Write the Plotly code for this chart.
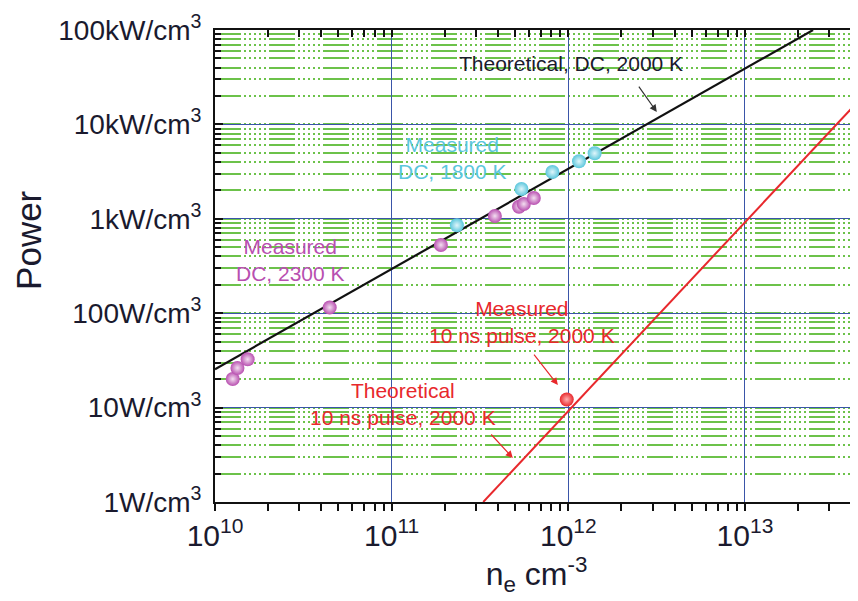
import plotly.graph_objects as go

# ---- data ----
dc2300_ne = [1.26e10, 1.34e10, 1.53e10, 4.46e10, 1.90e11, 3.84e11, 5.26e11, 5.60e11, 6.38e11]
dc2300_p = [20.1, 26.3, 32.5, 115, 528, 1071, 1343, 1435, 1660]

dc1800_ne = [2.34e11, 5.43e11, 8.13e11, 1.15e12, 1.41e12]
dc1800_p = [853, 2070, 3133, 4065, 4940]

pulse_ne = [9.8e11]
pulse_p = [12.2]

theory_dc_ne = [1.0e10, 2.43e13]
theory_dc_p = [25.5, 1.0e5]

theory_pulse_ne = [3.3e11, 4.5e13]
theory_pulse_p = [1.0, 1.86e4]

ytick_vals = [1, 10, 100, 1e3, 1e4, 1e5]
ytick_text = ["1W/cm<sup>3</sup>", "10W/cm<sup>3</sup>", "100W/cm<sup>3</sup>",
              "1kW/cm<sup>3</sup>", "10kW/cm<sup>3</sup>", "100kW/cm<sup>3</sup>"]

FONT = "Liberation Sans, Arial, sans-serif"
TXT = "#1a1a2e"
BLUE = "#3a55a8"
GREEN = "#6cc24a"
PURPLE = "#b84fb0"
CYAN = "#5ac6dc"
RED = "#e8282c"
GDASH = "26px,3px,2px,3px,2px,3px,2px,3px,2px,3px,2px,3px"

fig = go.Figure()

fig.add_trace(go.Scatter(x=theory_dc_ne, y=theory_dc_p, mode="lines",
                         line=dict(color="#111111", width=2.2), showlegend=False))
fig.add_trace(go.Scatter(x=theory_pulse_ne, y=theory_pulse_p, mode="lines",
                         line=dict(color=RED, width=2), showlegend=False))


def pts(x, y, c, light):
    return go.Scatter(x=x, y=y, mode="markers", showlegend=False,
                      marker=dict(size=14, color=c, line=dict(width=0),
                                  gradient=dict(type="radial", color=light)))


fig.add_trace(pts(dc2300_ne, dc2300_p, PURPLE, "#f3dff0"))
fig.add_trace(pts(dc1800_ne, dc1800_p, CYAN, "#e0f6fb"))
fig.add_trace(pts(pulse_ne, pulse_p, RED, "#ffb0b0"))
# invisible trace to anchor the top axis
fig.add_trace(go.Scatter(x=pulse_ne, y=pulse_p, xaxis="x2", mode="markers",
                         marker=dict(opacity=0), showlegend=False, hoverinfo="skip"))

xr = [10, 13.64]
fig.update_layout(
    width=850, height=593,
    margin=dict(l=207, r=0, t=22, b=99),
    paper_bgcolor="white", plot_bgcolor="white",
    font=dict(family=FONT, color=TXT),
    xaxis=dict(type="log", range=xr, dtick=1, exponentformat="power", automargin=False,
               showline=True, linecolor="#111", linewidth=2,
               ticks="outside", ticklen=7, tickwidth=1.5, tickcolor="#111",
               showgrid=True, gridcolor=BLUE, gridwidth=1.3,
               minor=dict(dtick="D1", ticks="outside", ticklen=7, tickwidth=1.5,
                          tickcolor="#111", showgrid=False),
               tickfont=dict(size=24, family=FONT, color=TXT),
               title=dict(text="n<sub>e</sub> cm<sup>-3</sup>",
                          font=dict(size=32, family=FONT, color=TXT), standoff=0),
               zeroline=False),
    xaxis2=dict(type="log", range=xr, dtick=1, overlaying="x", side="top", automargin=False,
                showline=True, linecolor="#111", linewidth=2,
                ticks="inside", ticklen=7, tickwidth=1.5, tickcolor="#111",
                showticklabels=False, showgrid=False,
                minor=dict(dtick="D1", ticks="inside", ticklen=7, tickwidth=1.5,
                           tickcolor="#111", showgrid=False)),
    yaxis=dict(type="log", range=[0, 5], tickvals=ytick_vals, ticktext=ytick_text,
               automargin=False, ticklabelstandoff=6,
               showline=True, linecolor="#111", linewidth=2,
               ticks="inside", ticklen=8, tickwidth=1.5, tickcolor="#111",
               showgrid=True, gridcolor=BLUE, gridwidth=1.3,
               minor=dict(dtick="D1", ticks="inside", ticklen=6, tickwidth=1.5,
                          tickcolor="#111", showgrid=True, gridcolor=GREEN,
                          gridwidth=2, griddash=GDASH),
               tickfont=dict(size=28, family=FONT, color=TXT),
               zeroline=False),
)

# y-axis title (placed slightly above centre, as in the reference)
fig.add_annotation(x=-0.291, y=0.555, xref="paper", yref="paper", text="Power",
                   textangle=-90, showarrow=False, xanchor="center", yanchor="middle",
                   font=dict(size=35, family=FONT, color=TXT))

ann_font = 21
annos = [
    dict(x=12.014, y=4.640, text="Theoretical, DC, 2000 K", color=TXT),
    dict(x=11.346, y=3.644, text="Measured<br>DC, 1800 K", color=CYAN),
    dict(x=10.428, y=2.564, text="Measured<br>DC, 2300 K", color=PURPLE),
    dict(x=11.737, y=1.907, text="Measured<br>10 ns pulse, 2000 K", color=RED),
    dict(x=11.062, y=1.038, text="Theoretical<br>10 ns pulse, 2000 K", color=RED),
]
for a in annos:
    fig.add_annotation(x=a["x"], y=a["y"], xref="x", yref="y", text=a["text"],
                       showarrow=False, font=dict(size=ann_font, color=a["color"], family=FONT),
                       align="center")

arrows = [
    dict(x=12.501, y=4.131, ax=-19, ay=-27, color="#333333"),
    dict(x=11.941, y=1.239, ax=-25, ay=-32, color=RED),
    dict(x=11.686, y=0.466, ax=-23, ay=-25, color=RED),
]
for a in arrows:
    fig.add_annotation(x=a["x"], y=a["y"], xref="x", yref="y", text="",
                       showarrow=True, ax=a["ax"], ay=a["ay"], arrowhead=2,
                       arrowsize=1.2, arrowwidth=1.2, arrowcolor=a["color"])

fig.write_html("out.html")
